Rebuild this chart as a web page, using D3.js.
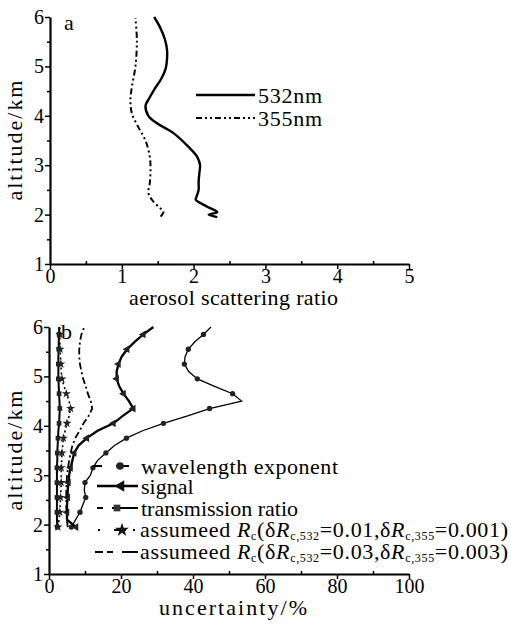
<!DOCTYPE html>
<html><head><meta charset="utf-8">
<script src="https://cdn.jsdelivr.net/npm/d3@7"></script>
<style>
body{margin:0;background:#fff;}
svg{display:block;font-family:"Liberation Serif","Times New Roman",serif;}
</style></head>
<body><svg id="c" width="511" height="625"></svg>
<script>
// ---------- Panel a data ----------
const alt532 = [1.95,2.0,2.05,2.16,2.3,2.36,2.5,2.66,2.84,3.0,3.17,3.37,3.65,3.85,4.0,4.2,4.35,4.55,4.75,4.95,5.15,5.33,5.55,5.8,6.0];
const val532 = [2.33,2.21,2.33,2.19,2.03,2.04,2.07,2.07,2.08,2.09,2.05,1.93,1.72,1.49,1.37,1.33,1.38,1.46,1.55,1.61,1.63,1.63,1.6,1.53,1.45];
const alt355 = [1.96,2.06,2.16,2.3,2.44,2.64,2.9,3.17,3.5,3.77,4.05,4.32,4.58,5.0,5.53,5.98];
const val355 = [1.54,1.58,1.51,1.42,1.37,1.39,1.4,1.39,1.33,1.23,1.14,1.12,1.14,1.19,1.21,1.19];
const xTicksA = [0,1,2,3,4,5];
const yTicks = [1,2,3,4,5,6];

// ---------- Panel b data ----------
const altB = [1.95,2.1,2.25,2.4,2.55,2.7,2.85,3.0,3.15,3.3,3.45,3.6,3.75,3.9,4.05,4.2,4.35,4.5,4.65,4.8,4.95,5.1,5.25,5.4,5.55,5.7,5.85,6.0];
const wavelengthExp = [6.2,7.4,8.6,9.4,10.2,9.8,10.0,11.5,12.2,13.5,15.8,18.2,21.5,26.0,31.8,38.5,44.6,53.5,51.0,46.0,41.2,38.8,37.6,37.8,38.7,40.5,42.9,45.0];
const signal = [7.5,5.0,5.0,5.0,5.2,5.2,5.4,5.6,6.0,6.5,7.0,8.2,10.5,13.5,17.9,20.5,23.4,22.2,20.7,19.5,18.8,18.8,19.3,20.2,21.7,23.8,26.2,29.0];
const transmission = [2.3,2.2,2.2,2.2,2.2,2.2,2.2,2.2,2.2,2.3,2.3,2.4,2.5,2.6,2.8,2.9,3.0,2.9,2.8,2.7,2.6,2.6,2.6,2.6,2.7,2.7,2.8,2.8];
const assumed001 = [2.5,2.8,3.0,3.1,3.2,3.3,3.4,3.4,3.4,3.5,3.6,3.8,4.0,4.5,5.0,5.6,6.0,5.6,4.8,4.2,3.6,3.4,3.3,3.2,3.1,3.0,3.0,3.0];
const assumed003 = [5.2,5.0,4.9,4.8,4.8,4.8,4.9,5.0,5.3,5.6,6.0,6.5,7.3,8.5,9.6,11.0,12.0,11.6,10.8,10.2,9.5,9.0,8.6,8.4,8.4,8.6,9.0,9.8];
const xTicksB = [0,20,40,60,80,100];

const svg = d3.select("#c");
svg.append("rect").attr("width",511).attr("height",625).attr("fill","#fff");
const FS = 20, TS = 22;

function axes(g, x, y, xTicks, xMinor, yMinor, xLabel, xLabelLen, yLabelX, xLabelY) {
  const [x0,x1] = x.range(), [y0,y1] = y.range();
  g.append("g").attr("transform",`translate(0,${y0})`)
    .call(d3.axisBottom(x).tickValues(xTicks).tickFormat(d3.format("d")).tickSize(5).tickSizeOuter(0).tickPadding(0))
    .call(s=>{s.select(".domain").attr("stroke-width",2.2);s.selectAll(".tick line").attr("stroke-width",1.5);
      s.selectAll("text").attr("font-size",FS).attr("font-family","Liberation Serif");});
  g.append("g").attr("transform",`translate(0,${y0})`)
    .call(d3.axisBottom(x).tickValues(xMinor).tickSize(-3).tickFormat(""))
    .call(s=>{s.select(".domain").remove();s.selectAll(".tick line").attr("stroke-width",1.5);});
  g.append("g").attr("transform",`translate(${x0},0)`)
    .call(d3.axisLeft(y).tickValues(yTicks).tickFormat(d3.format("d")).tickSize(5).tickSizeOuter(0).tickPadding(1))
    .call(s=>{s.select(".domain").attr("stroke-width",2.2);s.selectAll(".tick line").attr("stroke-width",1.5);
      s.selectAll("text").attr("font-size",FS).attr("font-family","Liberation Serif");});
  g.append("g").attr("transform",`translate(${x0},0)`)
    .call(d3.axisLeft(y).tickValues(yMinor).tickSize(3).tickFormat(""))
    .call(s=>{s.select(".domain").remove();s.selectAll(".tick line").attr("stroke-width",1.5);});
  g.append("text").attr("x",(x0+x1)/2+4).attr("y",xLabelY).attr("text-anchor","middle")
    .attr("font-size",TS).attr("textLength",xLabelLen).attr("lengthAdjust","spacing").text(xLabel);
  g.append("text").attr("transform",`translate(${yLabelX},${(y0+y1)/2}) rotate(-90)`)
    .attr("text-anchor","middle").attr("dy","0.35em").attr("font-size",TS)
    .attr("textLength",120).attr("lengthAdjust","spacing").text("altitude/km");
}

// ---------- Panel a ----------
const xa = d3.scaleLinear().domain([0,5]).range([50,409]);
const ya = d3.scaleLinear().domain([1,6]).range([264,17]);
const gA = svg.append("g");
axes(gA, xa, ya, xTicksA, [0.5,1.5,2.5,3.5,4.5], [1.5,2.5,3.5,4.5,5.5], "aerosol scattering ratio", 209, 14, 305);
gA.append("text").attr("x",64).attr("y",30).attr("font-size",TS).text("a");

const lineA = d3.line().x(d=>xa(d[1])).y(d=>ya(d[0])).curve(d3.curveCatmullRom);
gA.append("path").attr("d",lineA(d3.zip(alt532,val532))).attr("fill","none").attr("stroke","#000").attr("stroke-width",2.4);
gA.append("path").attr("d",lineA(d3.zip(alt355,val355))).attr("fill","none").attr("stroke","#000").attr("stroke-width",2)
  .attr("stroke-dasharray","6,3,2,3,2,3");
gA.append("line").attr("x1",196).attr("x2",255).attr("y1",95).attr("y2",95).attr("stroke","#000").attr("stroke-width",2.4);
gA.append("line").attr("x1",196).attr("x2",255).attr("y1",118).attr("y2",118).attr("stroke","#000").attr("stroke-width",2)
  .attr("stroke-dasharray","6,3,2,3,2,3");
gA.append("text").attr("x",258).attr("y",95).attr("dy","0.35em").attr("font-size",TS).attr("textLength",64).text("532nm");
gA.append("text").attr("x",258).attr("y",118).attr("dy","0.35em").attr("font-size",TS).attr("textLength",64).text("355nm");

// ---------- Panel b ----------
const xb = d3.scaleLinear().domain([0,100]).range([49,409]);
const yb = d3.scaleLinear().domain([1,6]).range([574,327]);
const gB = svg.append("g");
axes(gB, xb, yb, xTicksB, [10,30,50,70,90], [1.5,2.5,3.5,4.5,5.5], "uncertainty/%", 148, 14, 615);
gB.append("text").attr("x",61).attr("y",339).attr("font-size",TS).text("b");

const series = [
  {vals:wavelengthExp, w:1.3, dash:null, sym:d3.symbolCircle, size:22, rot:0},
  {vals:signal, w:2.3, dash:null, sym:d3.symbolTriangle, size:26, rot:-90},
  {vals:transmission, w:2, dash:null, sym:d3.symbolSquare, size:22, rot:0},
  {vals:assumed001, w:1.6, dash:"2,3", sym:d3.symbolStar, size:26, rot:0},
  {vals:assumed003, w:1.8, dash:"7,3,2,3", sym:null}
];
const lineB = d3.line().x(d=>xb(d[1])).y(d=>yb(d[0])).curve(d3.curveLinear);
series.forEach(s=>{
  const pts = d3.zip(altB, s.vals);
  gB.append("path").attr("d",lineB(pts)).attr("fill","none").attr("stroke","#000")
    .attr("stroke-width",s.w).attr("stroke-dasharray",s.dash);
  if (s.sym) {
    gB.selectAll(null).data(pts.filter((d,i)=>i%2===0 && i<27)).join("path")
      .attr("transform",d=>`translate(${xb(d[1])},${yb(d[0])}) rotate(${s.rot})`)
      .attr("d",d3.symbol(s.sym,s.size)).attr("fill","#222");
  }
});

// legend b
const legY = [466,486,508,530,552];
const tx = 141;
gB.append("line").attr("x1",93).attr("x2",138).attr("y1",legY[0]).attr("y2",legY[0]).attr("stroke","#000").attr("stroke-width",2).attr("stroke-dasharray","9,14,13");
gB.append("path").attr("transform",`translate(120,${legY[0]})`).attr("d",d3.symbol(d3.symbolCircle,45)).attr("fill","#222");
gB.append("line").attr("x1",97).attr("x2",138).attr("y1",legY[1]).attr("y2",legY[1]).attr("stroke","#000").attr("stroke-width",2.6);
gB.append("path").attr("transform",`translate(121,${legY[1]}) rotate(-90)`).attr("d",d3.symbol(d3.symbolTriangle,55)).attr("fill","#111");
gB.append("line").attr("x1",97).attr("x2",138).attr("y1",legY[2]).attr("y2",legY[2]).attr("stroke","#000").attr("stroke-width",2).attr("stroke-dasharray","6,9,26");
gB.append("path").attr("transform",`translate(117,${legY[2]})`).attr("d",d3.symbol(d3.symbolSquare,45)).attr("fill","#333");
gB.append("line").attr("x1",98).attr("x2",135).attr("y1",legY[3]).attr("y2",legY[3]).attr("stroke","#000").attr("stroke-width",2).attr("stroke-dasharray","2,14,12,7,2");
gB.append("path").attr("transform",`translate(122,${legY[3]})`).attr("d",d3.symbol(d3.symbolStar,60)).attr("fill","#111");
gB.append("line").attr("x1",95).attr("x2",138).attr("y1",legY[4]).attr("y2",legY[4]).attr("stroke","#000").attr("stroke-width",2.2).attr("stroke-dasharray","8,4,6,9,16");

const legText = ["wavelength exponent","signal","transmission ratio"];
const legLen = [197,null,null];
legText.forEach((t,i)=>{
  const el = gB.append("text").attr("x",tx).attr("y",legY[i]).attr("dy","0.35em").attr("font-size",TS).text(t);
  if (legLen[i]) el.attr("textLength",legLen[i]).attr("lengthAdjust","spacing");
});

const assumedLabels = [["0.01","0.001"],["0.03","0.003"]];
assumedLabels.forEach((v,k)=>{
  const x0 = tx - 1;
  const t = gB.append("text").attr("x",x0).attr("y",legY[3+k]).attr("dy","0.3em").attr("font-size",TS);
  t.append("tspan").text("assumeed ");
  t.append("tspan").attr("font-style","italic").text("R");
  t.append("tspan").attr("font-size",12).attr("dy",3).text("c");
  t.append("tspan").attr("dy",-3).text("(δ");
  t.append("tspan").attr("font-style","italic").text("R");
  t.append("tspan").attr("font-size",12).attr("dy",3).text("c,532");
  t.append("tspan").attr("dy",-3).text("="+v[0]+",δ");
  t.append("tspan").attr("font-style","italic").text("R");
  t.append("tspan").attr("font-size",12).attr("dy",3).text("c,355");
  t.append("tspan").attr("dy",-3).text("="+v[1]+")");
  t.attr("textLength",508 - x0).attr("lengthAdjust","spacing");
});
</script></body></html>
